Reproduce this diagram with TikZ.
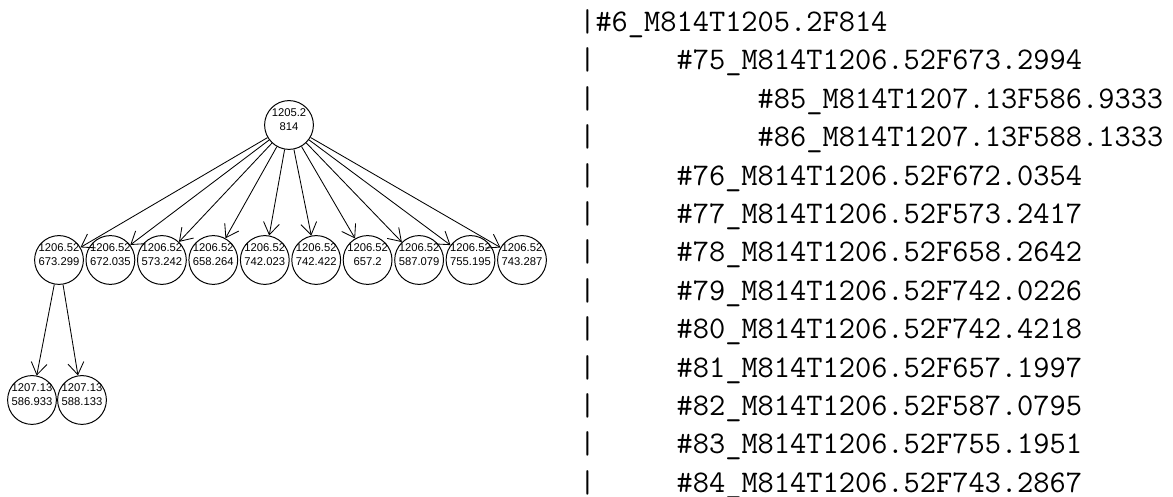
\documentclass[tikz,border=0pt]{standalone}
\usepackage{fontspec}
\newfontfamily\numfont{Liberation Sans}
\usetikzlibrary{arrows.meta}
\tikzset{
	circ/.style={circle,draw,line width=0.7pt,minimum size=1.22cm,inner sep=0pt},
	lbl/.style={font=\numfont\fontsize{8}{9.6}\selectfont,align=center,inner sep=0pt,yshift=1.4mm},
	arr/.style={-{Straight Barb[length=3mm,width=4mm]},line width=0.6pt},
	tline/.style={anchor=base west,inner sep=0pt,font=\ttfamily\fontsize{22.4}{27}\selectfont}
}
\begin{document}
\begin{tikzpicture}[x=0.025cm,y=-0.025cm]
				\useasboundingbox (0,0) rectangle (1173,497);
				% tree
				\node[circ,label={[lbl]center:{1205.2\\814}}] (r) at (289,125) {};
				\node[circ,label={[lbl]center:{1206.52\\673.299}}] (m1) at (59,260) {};
				\node[circ,label={[lbl]center:{1206.52\\672.035}}] (m2) at (110.4,260) {};
				\node[circ,label={[lbl]center:{1206.52\\573.242}}] (m3) at (161.9,260) {};
				\node[circ,label={[lbl]center:{1206.52\\658.264}}] (m4) at (213.3,260) {};
				\node[circ,label={[lbl]center:{1206.52\\742.023}}] (m5) at (264.8,260) {};
				\node[circ,label={[lbl]center:{1206.52\\742.422}}] (m6) at (316.2,260) {};
				\node[circ,label={[lbl]center:{1206.52\\657.2}}] (m7) at (367.6,260) {};
				\node[circ,label={[lbl]center:{1206.52\\587.079}}] (m8) at (419.1,260) {};
				\node[circ,label={[lbl]center:{1206.52\\755.195}}] (m9) at (470.5,260) {};
				\node[circ,label={[lbl]center:{1206.52\\743.287}}] (m10) at (522,260) {};
				\node[circ,label={[lbl]center:{1207.13\\586.933}}] (b1) at (32,400) {};
				\node[circ,label={[lbl]center:{1207.13\\588.133}}] (b2) at (82,400) {};
				\draw[arr] (r) -- (m1);
				\draw[arr] (r) -- (m2);
				\draw[arr] (r) -- (m3);
				\draw[arr] (r) -- (m4);
				\draw[arr] (r) -- (m5);
				\draw[arr] (r) -- (m6);
				\draw[arr] (r) -- (m7);
				\draw[arr] (r) -- (m8);
				\draw[arr] (r) -- (m9);
				\draw[arr] (r) -- (m10);
				\draw[arr] (m1) -- (b1);
				\draw[arr] (m1) -- (b2);
				% listing
				\node[tline] (t0) at (579,31.5) {|\#6\_M814T1205.2F814};
				\node[tline] (t1) at (579,69.9) {|\ \ \ \ \ \#75\_M814T1206.52F673.2994};
				\node[tline] (t2) at (579,108.3) {|\ \ \ \ \ \ \ \ \ \ \#85\_M814T1207.13F586.9333};
				\node[tline] (t3) at (579,146.7) {|\ \ \ \ \ \ \ \ \ \ \#86\_M814T1207.13F588.1333};
				\node[tline] (t4) at (579,185.1) {|\ \ \ \ \ \#76\_M814T1206.52F672.0354};
				\node[tline] (t5) at (579,223.5) {|\ \ \ \ \ \#77\_M814T1206.52F573.2417};
				\node[tline] (t6) at (579,261.9) {|\ \ \ \ \ \#78\_M814T1206.52F658.2642};
				\node[tline] (t7) at (579,300.3) {|\ \ \ \ \ \#79\_M814T1206.52F742.0226};
				\node[tline] (t8) at (579,338.7) {|\ \ \ \ \ \#80\_M814T1206.52F742.4218};
				\node[tline] (t9) at (579,377.1) {|\ \ \ \ \ \#81\_M814T1206.52F657.1997};
				\node[tline] (t10) at (579,415.5) {|\ \ \ \ \ \#82\_M814T1206.52F587.0795};
				\node[tline] (t11) at (579,453.9) {|\ \ \ \ \ \#83\_M814T1206.52F755.1951};
				\node[tline] (t12) at (579,492.3) {|\ \ \ \ \ \#84\_M814T1206.52F743.2867};
			\end{tikzpicture}
\end{document}
